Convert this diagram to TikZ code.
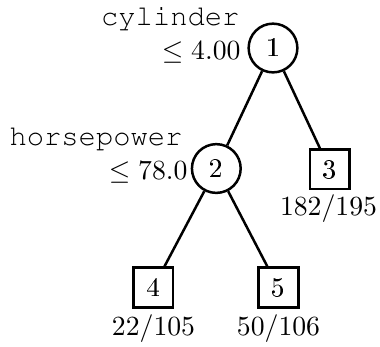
\documentclass[tikz,border=0pt]{standalone}
\usepackage[T1]{fontenc}
\newcommand{\attr}[1]{{\fontencoding{T1}\fontfamily{pcr}\selectfont #1}}
\begin{document}
\begin{tikzpicture}[x=0.361pt,y=-0.361pt,
  every node/.style={font=\fontsize{10.4pt}{12.5pt}\selectfont},
  split/.style={circle,draw,line width=0.9pt,minimum size=17.6pt,inner sep=0pt},
  leaf/.style={rectangle,draw,line width=0.9pt,minimum width=14.4pt,minimum height=14.3pt,inner sep=0pt},
  rule/.style={anchor=base east,inner sep=0pt},
  count/.style={anchor=base,inner sep=0pt},
  edge/.style={line width=0.9pt}]
\useasboundingbox (0,0) rectangle (380,346);

% tree nodes
\node[split] (n1) at (273,48) {1};
\node[split] (n2) at (216.3,168.5) {2};
\node[leaf]  (n3) at (329.7,169.2) {3};
\node[leaf]  (n4) at (153.3,287.5) {4};
\node[leaf]  (n5) at (278.3,287.5) {5};

% branches
\draw[edge] (n1) -- (n2);
\draw[edge] (n1) -- (n3);
\draw[edge] (n2) -- (n4);
\draw[edge] (n2) -- (n5);

% split rules
\node[rule] (r1a) at (240,25) {\attr{cylinder}};
\node[rule] (r1b) at (241,59) {$\leq 4.00$};
\node[rule] (r2a) at (183,145) {\attr{horsepower}};
\node[rule] (r2b) at (188,179) {$\leq 78.0$};

% leaf counts
\node[count] (c3) at (328.5,215.5) {$182/195$};
\node[count] (c4) at (153.5,335) {$22/105$};
\node[count] (c5) at (278.5,335) {$50/106$};
\end{tikzpicture}
\end{document}
